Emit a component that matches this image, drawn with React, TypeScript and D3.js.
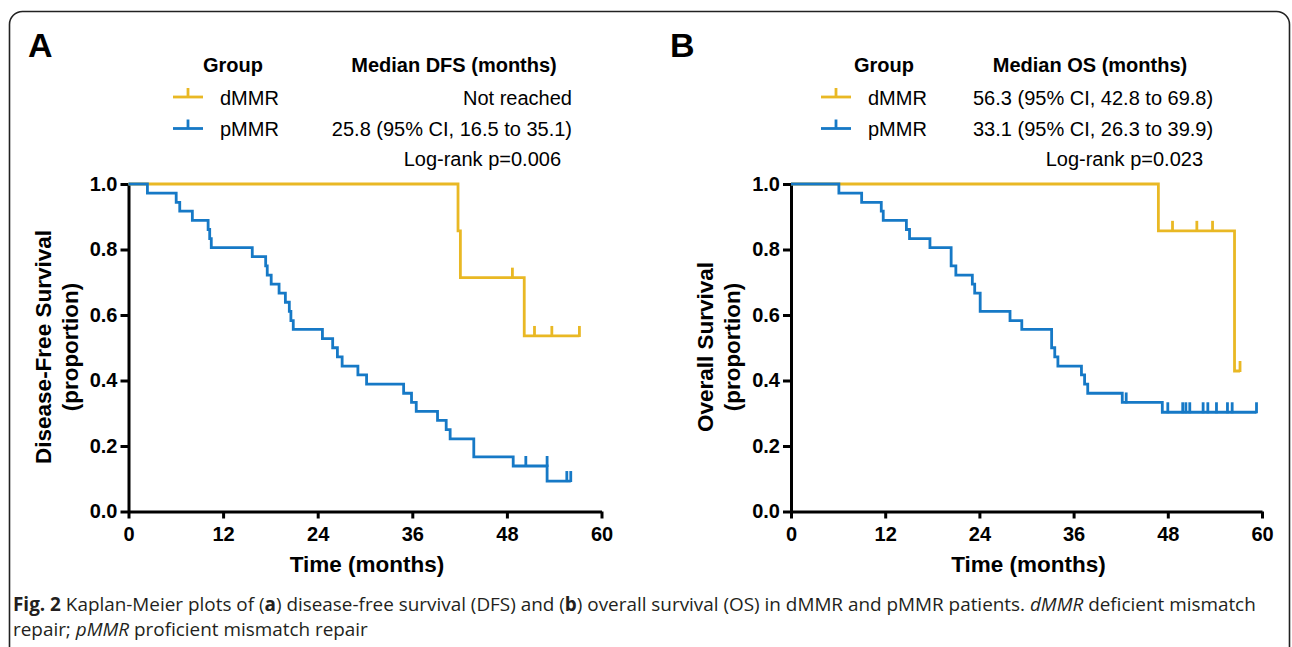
import React, { useEffect, useRef } from 'react';
import * as d3 from 'd3';

const W = 1292;
const H = 647;
const YELLOW = '#E9B824';
const BLUE = '#1679C6';
const ARIAL = '"Liberation Sans", Arial, sans-serif';

// Panel A - disease-free survival
const dfsDmmrTimes = [41.8, 42.1, 50.2];
const dfsDmmrSurv = [0.857, 0.714, 0.536];
const dfsDmmrCensor = [48.7, 51.5, 53.7, 57.2];
const dfsDmmrEnd = 57.2;

const dfsPmmrTimes = [2.4, 6.05, 6.5, 8.1, 10.1, 10.3, 10.5, 15.7, 17.4, 17.6, 18.1, 19.1, 19.9, 20.4, 20.6, 20.9,
  24.6, 25.9, 26.5, 27.1, 29.1, 30.2, 34.9, 35.9, 36.5, 39.2, 40.3, 40.8, 43.8, 48.8, 53.1];
const dfsPmmrSurv = [0.972, 0.944, 0.917, 0.889, 0.861, 0.833, 0.806, 0.778, 0.75, 0.722, 0.694, 0.667, 0.639, 0.611,
  0.583, 0.556, 0.528, 0.5, 0.472, 0.444, 0.417, 0.389, 0.361, 0.333, 0.306, 0.278, 0.25, 0.222, 0.167, 0.139, 0.093];
const dfsPmmrCensor = [50.4, 53.1, 55.6, 56.1];
const dfsPmmrEnd = 56.1;

// Panel B - overall survival
const osDmmrTimes = [46.8, 56.5];
const osDmmrSurv = [0.857, 0.429];
const osDmmrCensor = [48.6, 51.7, 53.7, 57.2];
const osDmmrEnd = 57.2;

const osPmmrTimes = [6.1, 9.0, 11.5, 11.75, 14.7, 15.1, 17.7, 20.4, 21.0, 23.1, 23.4, 24.1, 27.9, 29.4, 33.2, 33.6,
  34.0, 37.0, 37.4, 37.8, 42.2, 47.3];
const osPmmrSurv = [0.972, 0.944, 0.917, 0.889, 0.861, 0.833, 0.806, 0.75, 0.722, 0.694, 0.667, 0.611, 0.583, 0.556,
  0.5, 0.472, 0.444, 0.417, 0.389, 0.361, 0.333, 0.303];
const osPmmrCensor = [42.7, 48.0, 49.9, 50.3, 50.8, 52.5, 53.1, 54.2, 55.6, 56.2, 59.3];
const osPmmrEnd = 59.3;

const xTicks = [0, 12, 24, 36, 48, 60];
const yTicks = [0, 0.2, 0.4, 0.6, 0.8, 1.0];

const survAt = (times: number[], surv: number[], t: number) => {
  let s = 1;
  times.forEach((tt, i) => {
    if (tt < t) s = surv[i];
  });
  return s;
};

const drawPanel = (svg: any, opt: any) => {
  const x = d3.scaleLinear().domain([0, 60]).range(opt.xRange);
  const y = d3.scaleLinear().domain([0, 1]).range([511.5, 184]);
  const g = svg.append('g');

  // axes
  const gy = g.append('g')
    .attr('transform', `translate(${opt.xRange[0]},0)`)
    .call(d3.axisLeft(y).tickValues(yTicks).tickFormat(d3.format('.1f')).tickSize(8).tickSizeOuter(0).tickPadding(3));
  const gx = g.append('g')
    .attr('transform', `translate(0,511.5)`)
    .call(d3.axisBottom(x).tickValues(xTicks).tickSize(7).tickSizeOuter(0).tickPadding(8));
  [gx, gy].forEach((a) => {
    a.selectAll('path, line').attr('stroke', '#000').attr('stroke-width', 3);
    a.selectAll('text')
      .attr('font-family', ARIAL)
      .attr('font-size', 20)
      .attr('font-weight', 'bold')
      .attr('fill', '#000');
  });

  // axis titles
  const cx = (opt.xRange[0] + opt.xRange[1]) / 2;
  g.append('text')
    .attr('x', cx + 2)
    .attr('y', 572)
    .attr('text-anchor', 'middle')
    .attr('font-family', ARIAL)
    .attr('font-size', 22.5)
    .attr('font-weight', 'bold')
    .text('Time (months)');
  const tx = opt.xRange[0] - 78;
  opt.yTitle.forEach((line: string, i: number) => {
    g.append('text')
      .attr('transform', `translate(${tx + i * 27},347) rotate(-90)`)
      .attr('text-anchor', 'middle')
      .attr('font-family', ARIAL)
      .attr('font-size', 22.5)
      .attr('font-weight', 'bold')
      .text(line);
  });

  // curves
  const line = d3.line<number[]>()
    .x((d) => x(d[0]))
    .y((d) => y(d[1]))
    .curve(d3.curveStepAfter);
  opt.series.forEach((s: any) => {
    const pts = [[0, 1], ...s.times.map((t: number, i: number) => [t, s.surv[i]]),
      [s.end, s.surv[s.surv.length - 1]]];
    g.append('path')
      .attr('d', line(pts))
      .attr('fill', 'none')
      .attr('stroke', s.color)
      .attr('stroke-width', 2.8);
    g.selectAll(null)
      .data(s.censor)
      .enter()
      .append('line')
      .attr('x1', (t: number) => x(t))
      .attr('x2', (t: number) => x(t))
      .attr('y1', (t: number) => y(survAt(s.times, s.surv, t)) + 1)
      .attr('y2', (t: number) => y(survAt(s.times, s.surv, t)) - 10)
      .attr('stroke', s.color)
      .attr('stroke-width', 2.8);
  });

  // panel letter
  g.append('text')
    .attr('x', opt.letterX)
    .attr('y', 57)
    .attr('font-family', ARIAL)
    .attr('font-size', 34)
    .attr('font-weight', 'bold')
    .text(opt.letter);

  // legend
  const lg = g.append('g').attr('font-family', ARIAL).attr('font-size', 20).attr('fill', '#000');
  lg.append('text').attr('x', opt.groupX).attr('y', 72).attr('text-anchor', 'middle')
    .attr('font-weight', 'bold').text('Group');
  lg.append('text').attr('x', opt.medianX).attr('y', 72).attr('text-anchor', 'middle')
    .attr('font-weight', 'bold').text(opt.medianTitle);
  opt.series.forEach((s: any, i: number) => {
    const ly = 97 + i * 31.5;
    lg.append('line').attr('x1', opt.markX).attr('x2', opt.markX + 30).attr('y1', ly).attr('y2', ly)
      .attr('stroke', s.color).attr('stroke-width', 2.8);
    lg.append('line').attr('x1', opt.markX + 15).attr('x2', opt.markX + 15).attr('y1', ly).attr('y2', ly - 9)
      .attr('stroke', s.color).attr('stroke-width', 2.8);
    lg.append('text').attr('x', opt.nameX).attr('y', ly + 7.5).text(s.name);
    lg.append('text').attr('x', opt.valueX).attr('y', ly + 7.5).attr('text-anchor', opt.valueAnchor)
      .text(s.median);
  });
  lg.append('text').attr('x', opt.pX).attr('y', 166).attr('text-anchor', 'end').text(opt.pText);
};

const App = () => {
  const ref = useRef<SVGSVGElement>(null);

  useEffect(() => {
    document.body.style.margin = '0';
    const svg = d3.select(ref.current);
    svg.selectAll('*').remove();

    svg.append('rect')
      .attr('x', 9.5)
      .attr('y', 11.5)
      .attr('width', 1280)
      .attr('height', 700)
      .attr('rx', 13)
      .attr('fill', 'none')
      .attr('stroke', '#222')
      .attr('stroke-width', 1.6);

    drawPanel(svg, {
      letter: 'A',
      letterX: 28,
      xRange: [128.5, 601.5],
      yTitle: ['Disease-Free Survival', '(proportion)'],
      groupX: 233,
      medianX: 454,
      medianTitle: 'Median DFS (months)',
      markX: 173,
      nameX: 220,
      valueX: 572,
      valueAnchor: 'end',
      pX: 561,
      pText: 'Log-rank p=0.006',
      series: [
        { name: 'dMMR', median: 'Not reached', color: YELLOW, times: dfsDmmrTimes, surv: dfsDmmrSurv, censor: dfsDmmrCensor, end: dfsDmmrEnd },
        { name: 'pMMR', median: '25.8 (95% CI, 16.5 to 35.1)', color: BLUE, times: dfsPmmrTimes, surv: dfsPmmrSurv, censor: dfsPmmrCensor, end: dfsPmmrEnd },
      ],
    });

    drawPanel(svg, {
      letter: 'B',
      letterX: 670,
      xRange: [791, 1262],
      yTitle: ['Overall Survival', '(proportion)'],
      groupX: 884,
      medianX: 1090,
      medianTitle: 'Median OS (months)',
      markX: 821,
      nameX: 868,
      valueX: 973,
      valueAnchor: 'start',
      pX: 1203,
      pText: 'Log-rank p=0.023',
      series: [
        { name: 'dMMR', median: '56.3 (95% CI, 42.8 to 69.8)', color: YELLOW, times: osDmmrTimes, surv: osDmmrSurv, censor: osDmmrCensor, end: osDmmrEnd },
        { name: 'pMMR', median: '33.1 (95% CI, 26.3 to 39.9)', color: BLUE, times: osPmmrTimes, surv: osPmmrSurv, censor: osPmmrCensor, end: osPmmrEnd },
      ],
    });

    // caption
    const cap = svg.append('text')
      .attr('font-family', '"Open Sans", "Noto Sans", sans-serif')
      .attr('font-size', 18.9)
      .attr('fill', '#231f20');
    const l1 = cap.append('tspan').attr('x', 13).attr('y', 611);
    l1.append('tspan').attr('font-weight', 'bold').text('Fig. 2');
    l1.append('tspan').text(' Kaplan-Meier plots of (');
    l1.append('tspan').attr('font-weight', 'bold').text('a');
    l1.append('tspan').text(') disease-free survival (DFS) and (');
    l1.append('tspan').attr('font-weight', 'bold').text('b');
    l1.append('tspan').text(') overall survival (OS) in dMMR and pMMR patients. ');
    l1.append('tspan').attr('font-style', 'italic').text('dMMR');
    l1.append('tspan').text(' deficient mismatch');
    const l2 = cap.append('tspan').attr('x', 13).attr('y', 636);
    l2.append('tspan').text('repair; ');
    l2.append('tspan').attr('font-style', 'italic').text('pMMR');
    l2.append('tspan').text(' proficient mismatch repair');
  }, []);

  return <svg ref={ref} width={W} height={H} style={{ display: 'block', background: '#fff' }} />;
};

export default App;
